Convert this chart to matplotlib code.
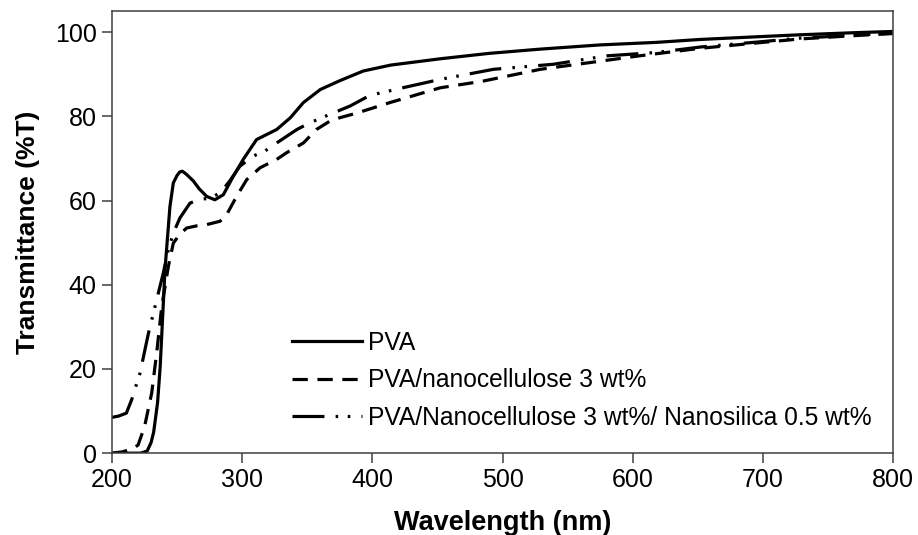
import matplotlib
matplotlib.use("Agg")
import matplotlib.pyplot as plt

plt.rcParams['font.family'] = ['Liberation Sans', 'DejaVu Sans']

# wavelength (nm) / transmittance (%T)
pva_x = [200, 222, 227, 230, 232, 235, 237, 240.7, 244.5, 247.1, 250, 252, 254, 257, 262.4,
         267, 272.7, 279, 285.5, 293.2, 300.8, 311, 326.5, 337, 347, 360, 375, 393, 414,
         452, 490, 529, 575, 618, 652, 700, 728, 770, 800]
pva_y = [0, 0, 0.5, 2.5, 5, 12, 20.5, 43.6, 58.6, 64.2, 66, 66.8, 67, 66.3, 64.7,
         62.8, 61, 60.2, 61.4, 65.8, 69.8, 74.5, 76.9, 79.7, 83.3, 86.4, 88.5, 90.8, 92.2,
         93.7, 95, 96, 97, 97.6, 98.3, 99, 99.4, 99.9, 100.2]

nc_x = [200, 208, 215, 220, 225, 230.5, 234.3, 238.2, 243.3, 247.1, 252, 257.4, 265, 272.7,
        283, 288.1, 295.7, 303.5, 313.7, 326.5, 334.2, 347, 357, 367.4, 375, 388, 413.5,
        452, 485, 529, 567, 605, 652, 700, 728, 770, 800]
nc_y = [0, 0.3, 1, 1.9, 6.3, 14.3, 23.8, 34.8, 44.4, 49.9, 52, 53.5, 54, 54.3,
        55.1, 56.7, 61, 65, 67.8, 69.8, 71.4, 73.7, 76.9, 78.9, 79.7, 80.8, 83.3,
        86.8, 88.4, 91.2, 92.8, 94.4, 96.2, 97.6, 98.4, 99.2, 99.7]

ns_x = [200, 205, 211, 215, 221.5, 228, 234.3, 239.4, 243, 247.1, 252.2, 259.9, 266.3, 275,
        283, 290, 298.3, 308.6, 317.5, 326.5, 342, 352, 367.4, 383, 398, 426, 452,
        493, 539, 580, 618, 652, 700, 728, 770, 800]
ns_y = [8.5, 8.8, 9.5, 12.6, 19, 28.5, 36.4, 42.8, 48, 52.3, 55.9, 59.4, 60.2, 60.6,
        61.8, 64.5, 68.2, 70.6, 71.8, 73.7, 76.9, 78.5, 80.5, 82.5, 85, 87, 88.8,
        91.2, 92.4, 94.4, 95.2, 96.5, 97.8, 98.6, 99.3, 99.8]

labels = ['PVA', 'PVA/nanocellulose 3 wt%', 'PVA/Nanocellulose 3 wt%/ Nanosilica 0.5 wt%']

fig = plt.figure(figsize=(9.18, 5.35), dpi=100)
ax = fig.add_axes([0.122, 0.153, 0.851, 0.826])

lw = 2.3
ax.plot(pva_x, pva_y, color='black', lw=lw, label=labels[0])
ax.plot(nc_x, nc_y, color='black', lw=lw, dashes=(4.8, 3.0), label=labels[1])
ax.plot(ns_x, ns_y, color='black', lw=lw, dashes=(10, 3.5, 0.8, 3, 0.8, 3.5), label=labels[2])

ax.set_xlim(200, 800)
ax.set_ylim(0, 105)
ax.set_xticks(range(200, 801, 100))
ax.set_yticks(range(0, 101, 20))
ax.tick_params(direction='out', length=7, width=1.1, color='#404040', labelsize=18, pad=4)
for s in ax.spines.values():
    s.set_color('#404040')
    s.set_linewidth(1.1)

ax.set_xlabel('Wavelength (nm)', fontsize=19.5, fontweight='bold', labelpad=13)
ax.set_ylabel('Transmittance (%T)', fontsize=19, fontweight='bold', labelpad=11)

ax.legend(loc='center left', bbox_to_anchor=(0.2305, 0.165), frameon=False, fontsize=17.7,
          borderpad=0, borderaxespad=0, handlelength=2.85, handletextpad=0.25,
          labelspacing=0.55)

fig.savefig('out.png', dpi=100)
